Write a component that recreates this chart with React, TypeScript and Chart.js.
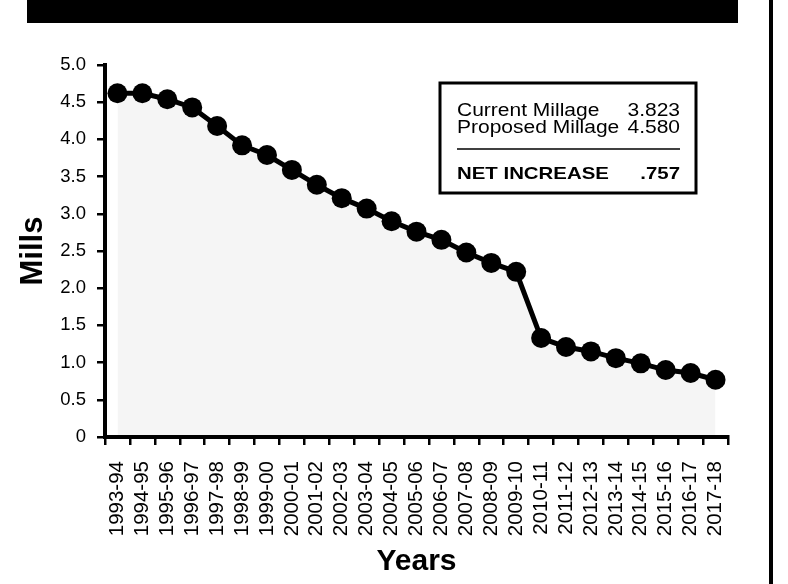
import React, { useEffect, useRef } from "react";
import { Chart, registerables } from "chart.js";

Chart.register(...registerables);

const YEARS = [
  "1993-94", "1994-95", "1995-96", "1996-97", "1997-98", "1998-99", "1999-00",
  "2000-01", "2001-02", "2002-03", "2003-04", "2004-05", "2005-06", "2006-07",
  "2007-08", "2008-09", "2009-10", "2010-11", "2011-12", "2012-13", "2013-14",
  "2014-15", "2015-16", "2016-17", "2017-18",
];

const MILLS = [
  4.62, 4.62, 4.54, 4.43, 4.18, 3.92, 3.79, 3.59, 3.39, 3.21, 3.07, 2.9, 2.76,
  2.65, 2.48, 2.34, 2.22, 1.33, 1.21, 1.15, 1.06, 0.99, 0.9, 0.86, 0.77,
];

const Y_TICK_LABELS = ["0", "0.5", "1.0", "1.5", "2.0", "2.5", "3.0", "3.5", "4.0", "4.5", "5.0"];

const BOX_LABELS = ["Current Millage", "Proposed Millage"];
const BOX_VALUES = ["3.823", "4.580"];
const NET_LABEL = "NET INCREASE";
const NET_VALUE = ".757";

const FONT = "'Liberation Sans', Arial, Helvetica, sans-serif";

function stretchedText(ctx: any, text: string, x: number, y: number, align: "left" | "right", sx: number) {
  ctx.save();
  ctx.translate(x, y);
  ctx.scale(sx, 1);
  ctx.textAlign = align;
  ctx.fillText(text, 0, 0);
  ctx.restore();
}

const decorPlugin = {
  id: "decor",
  beforeDraw(chart: any) {
    const { ctx } = chart;
    ctx.save();
    ctx.fillStyle = "#ffffff";
    ctx.fillRect(0, 0, chart.width, chart.height);
    ctx.fillStyle = "#000000";
    // top black band
    ctx.fillRect(27, 0, 711, 23);
    // right vertical rule
    ctx.fillRect(769, 0, 4, chart.height);
    ctx.restore();
  },
  afterDraw(chart: any) {
    const { ctx, chartArea } = chart;
    const bx = chartArea.right - 288;
    const by = chartArea.top + 18;
    const bw = 256;
    const bh = 110;
    ctx.save();
    ctx.fillStyle = "#ffffff";
    ctx.fillRect(bx, by, bw, bh);
    ctx.strokeStyle = "#000000";
    ctx.lineWidth = 3;
    ctx.strokeRect(bx, by, bw, bh);
    ctx.fillStyle = "#000000";
    ctx.textBaseline = "alphabetic";
    ctx.font = `17.5px ${FONT}`;
    const left = bx + 17;
    const right = bx + 240;
    BOX_LABELS.forEach((lab, i) => {
      const y = by + 33 + i * 17;
      stretchedText(ctx, lab, left, y, "left", 1.2);
      stretchedText(ctx, BOX_VALUES[i], right, y, "right", 1.2);
    });
    ctx.lineWidth = 1.5;
    ctx.beginPath();
    ctx.moveTo(left, by + 66);
    ctx.lineTo(right, by + 66);
    ctx.stroke();
    ctx.font = `bold 17px ${FONT}`;
    stretchedText(ctx, NET_LABEL, left, by + 96, "left", 1.2);
    stretchedText(ctx, NET_VALUE, right, by + 96, "right", 1.2);
    ctx.restore();
  },
};

export default function App() {
  const canvasRef = useRef<HTMLCanvasElement | null>(null);

  useEffect(() => {
    if (!canvasRef.current) return;
    const chart = new Chart(canvasRef.current, {
      type: "line",
      data: {
        labels: YEARS,
        datasets: [
          {
            data: MILLS,
            borderColor: "#000000",
            borderWidth: 5,
            backgroundColor: "rgba(0,0,0,0.04)",
            fill: "origin",
            pointRadius: 10,
            pointHoverRadius: 10,
            pointBackgroundColor: "#000000",
            pointBorderColor: "#000000",
            pointBorderWidth: 0,
            tension: 0,
          },
        ],
      },
      options: {
        animation: false,
        responsive: true,
        maintainAspectRatio: false,
        devicePixelRatio: 1,
        layout: { padding: { top: 65, right: 60, left: 0, bottom: 0 } },
        plugins: {
          legend: { display: false },
          tooltip: { enabled: false },
          title: { display: false },
        },
        scales: {
          x: {
            type: "category",
            offset: true,
            afterFit: (scale: any) => {
              scale.height = 147;
            },
            grid: {
              display: true,
              offset: true,
              drawOnChartArea: false,
              drawTicks: true,
              tickLength: 8,
              color: "#000000",
              lineWidth: 2.5,
            },
            border: { display: true, color: "#000000", width: 4 },
            ticks: {
              autoSkip: false,
              maxRotation: 90,
              minRotation: 90,
              padding: 16,
              color: "#000000",
              font: { family: FONT, size: 20.5 },
            },
            title: {
              display: true,
              text: "Years",
              color: "#000000",
              font: { family: FONT, size: 30, weight: "bold" },
              padding: { top: 0, bottom: 4 },
            },
          },
          y: {
            min: 0,
            max: 5,
            afterFit: (scale: any) => {
              scale.width = 105;
            },
            grid: {
              display: true,
              drawOnChartArea: false,
              drawTicks: true,
              tickLength: 8,
              color: "#000000",
              lineWidth: 2.5,
            },
            border: { display: true, color: "#000000", width: 4 },
            ticks: {
              stepSize: 0.5,
              padding: 11,
              color: "#000000",
              font: { family: FONT, size: 18.5 },
              callback: (_v: any, i: number) => Y_TICK_LABELS[i],
            },
            title: {
              display: true,
              text: "Mills",
              color: "#000000",
              font: { family: FONT, size: 31, weight: "bold" },
              padding: { top: 15, bottom: 0 },
            },
          },
        },
      },
      plugins: [decorPlugin],
    });
    return () => chart.destroy();
  }, []);

  return (
    <div
      style={{
        position: "fixed",
        left: 0,
        top: 0,
        width: 788,
        height: 584,
        background: "#ffffff",
      }}
    >
      <canvas ref={canvasRef} />
    </div>
  );
}
